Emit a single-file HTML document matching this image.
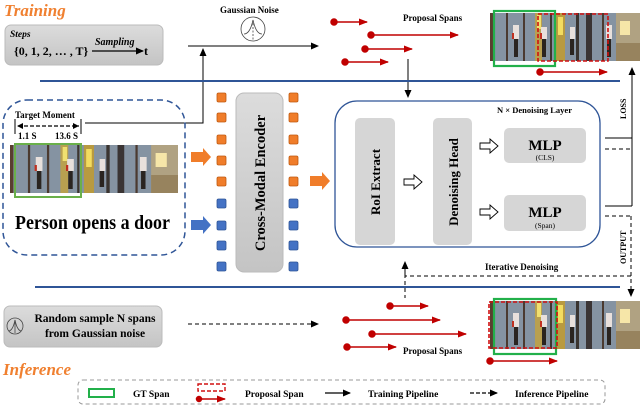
<!DOCTYPE html>
<html><head><meta charset="utf-8"><style>
html,body{margin:0;padding:0;background:#fff;}
svg{display:block;font-family:"Liberation Serif",serif;}
</style></head><body>
<svg width="640" height="406" viewBox="0 0 640 406" xmlns="http://www.w3.org/2000/svg">
<defs>
<marker id="ah" markerWidth="8" markerHeight="8" refX="7" refY="4" orient="auto" markerUnits="userSpaceOnUse"><path d="M0,0.5 L8,4 L0,7.5 Z" fill="#000"/></marker>
<marker id="rh" markerWidth="9" markerHeight="8" refX="8" refY="4" orient="auto" markerUnits="userSpaceOnUse"><path d="M0,0.5 L9,4 L0,7.5 Z" fill="#c00000"/></marker>
<linearGradient id="bx" x1="0" y1="0" x2="0" y2="1"><stop offset="0" stop-color="#dcdcdc"/><stop offset="1" stop-color="#c4c4c4"/></linearGradient>
<g id="vid">
<rect x="0" y="0" width="150" height="48" fill="#8593a2"/>
<rect x="0" y="0" width="3" height="48" fill="#5a3e30"/>
<rect x="16" y="0" width="2" height="48" fill="#4b3a30"/>
<rect x="33" y="0" width="2" height="48" fill="#4b3a30"/>
<rect x="45" y="0" width="7" height="48" fill="#b8a050"/>
<rect x="47" y="2" width="4" height="14" fill="#f0e070"/>
<rect x="60" y="0" width="2" height="48" fill="#3d3530"/>
<rect x="66" y="0" width="9" height="48" fill="#b89a40"/>
<rect x="68" y="4" width="5" height="18" fill="#f2dc60"/>
<rect x="86" y="0" width="3" height="48" fill="#3a3430"/>
<rect x="96" y="0" width="6" height="48" fill="#3a3434"/>
<rect x="112" y="0" width="2" height="48" fill="#4b3a30"/>
<rect x="126" y="0" width="24" height="48" fill="#b0a282"/>
<rect x="130" y="8" width="10" height="14" fill="#f6e6a8"/>
<rect x="126" y="30" width="24" height="18" fill="#97835e"/>
<g fill="#e8e0dc"><rect x="23" y="12" width="6" height="14"/><rect x="51" y="14" width="6" height="12"/><rect x="80" y="14" width="5" height="12"/><rect x="116" y="12" width="6" height="14"/></g>
<g fill="#2a2420"><rect x="24" y="26" width="4" height="18"/><rect x="52" y="26" width="4" height="18"/><rect x="80" y="26" width="4" height="16"/><rect x="117" y="26" width="4" height="18"/></g>
<g fill="#c03020"><rect x="22" y="20" width="2" height="6"/><rect x="50" y="20" width="2" height="6"/></g>
</g>
</defs>

<text x="4" y="16" font-size="17" font-style="italic" font-weight="bold" fill="#f08030">Training</text>
<rect x="5" y="25" width="158" height="40" rx="6" fill="url(#bx)" stroke="#bbb"/>
<text x="10" y="37" font-size="9.5" font-style="italic" font-weight="bold">Steps</text>
<text x="14" y="55" font-size="12" font-weight="bold">{0, 1, 2, … , T}</text>
<line x1="92" y1="51" x2="143" y2="51" stroke="#000" stroke-width="1.2" marker-end="url(#ah)"/>
<text x="95" y="45" font-size="10" font-style="italic" font-weight="bold">Sampling</text>
<text x="144" y="55" font-size="12" font-weight="bold">t</text>

<text x="220" y="13" font-size="9" font-weight="bold">Gaussian Noise</text>
<circle cx="253" cy="29" r="12" fill="none" stroke="#444" stroke-width="0.8"/>
<path d="M244,34 Q250,34 253,20 Q256,34 262,34" fill="none" stroke="#444" stroke-width="0.8"/>
<line x1="253" y1="20" x2="253" y2="40" stroke="#444" stroke-width="0.8" stroke-dasharray="2,1.5"/>
<line x1="188" y1="46" x2="318" y2="46" stroke="#000" stroke-width="1" marker-end="url(#ah)"/>
<polyline points="85,123 203,123 203,49" fill="none" stroke="#000" stroke-width="1" marker-end="url(#ah)"/>

<g stroke="#c00000" stroke-width="1.5" fill="#c00000">
<line x1="334" y1="22" x2="367" y2="22" marker-end="url(#rh)"/><circle cx="334" cy="22" r="3"/>
<line x1="371" y1="35" x2="458" y2="35" marker-end="url(#rh)"/><circle cx="371" cy="35" r="3"/>
<line x1="365" y1="49" x2="412" y2="49" marker-end="url(#rh)"/><circle cx="365" cy="49" r="3"/>
<line x1="345" y1="62" x2="388" y2="62" marker-end="url(#rh)"/><circle cx="345" cy="62" r="3"/>
<line x1="540" y1="72" x2="607" y2="72" marker-end="url(#rh)"/><circle cx="540" cy="72" r="3"/>
</g>
<text x="403" y="21" font-size="9" font-weight="bold">Proposal Spans</text>
<line x1="408" y1="59" x2="408" y2="97" stroke="#000" stroke-width="1" marker-end="url(#ah)"/>
<use href="#vid" x="490" y="13"/>
<rect x="494" y="11" width="61" height="55" fill="none" stroke="#22b04a" stroke-width="2.2"/>
<rect x="538" y="14" width="70" height="47" fill="none" stroke="#d01010" stroke-width="1.6" stroke-dasharray="4,2"/>

<line x1="40" y1="81" x2="620" y2="81" stroke="#2f5597" stroke-width="2"/>
<line x1="35" y1="287" x2="620" y2="287" stroke="#2f5597" stroke-width="2"/>

<line x1="632" y1="206" x2="632" y2="68" stroke="#000" stroke-width="1" marker-end="url(#ah)"/>
<line x1="605" y1="138" x2="632" y2="138" stroke="#000"/>
<line x1="605" y1="206" x2="632" y2="206" stroke="#000"/>
<line x1="605" y1="149" x2="632" y2="149" stroke="#000" stroke-dasharray="4,3"/>
<line x1="605" y1="216" x2="631" y2="216" stroke="#000" stroke-dasharray="4,3"/>
<line x1="631" y1="216" x2="631" y2="296" stroke="#000" stroke-dasharray="4,3" marker-end="url(#ah)"/>
<text transform="translate(626,119) rotate(-90)" font-size="8" font-weight="bold">LOSS</text>
<text transform="translate(626,264) rotate(-90)" font-size="8" font-weight="bold">OUTPUT</text>

<rect x="3" y="100" width="182" height="155" rx="24" fill="none" stroke="#2f5597" stroke-width="1.5" stroke-dasharray="6,4"/>
<text x="15" y="118" font-size="9" font-weight="bold">Target Moment</text>
<line x1="15" y1="119" x2="15" y2="134" stroke="#000"/><line x1="81" y1="119" x2="81" y2="134" stroke="#000"/>
<line x1="18" y1="126" x2="79" y2="126" stroke="#000" stroke-width="1.2" stroke-dasharray="4,2"/>
<path d="M17,126 L23,123 L23,129 Z M79,126 L73,123 L73,129 Z" fill="#000"/>
<text x="18" y="139" font-size="9" font-weight="bold">1.1 S</text>
<text x="55" y="139" font-size="9" font-weight="bold">13.6 S</text>
<use href="#vid" transform="translate(10,145) scale(1.12,1)"/>
<rect x="15" y="144" width="66" height="53" fill="none" stroke="#6ab04a" stroke-width="2"/>
<text x="15" y="229" font-size="20" font-weight="bold" textLength="155" lengthAdjust="spacingAndGlyphs">Person opens a door</text>

<path d="M191,152 L203,152 L203,148 L211,157 L203,166 L203,162 L191,162 Z" fill="#f07d2a"/>
<path d="M191,220 L203,220 L203,216 L211,225 L203,234 L203,230 L191,230 Z" fill="#4472c4"/>
<path d="M310,176 L322,176 L322,172 L330,181 L322,190 L322,186 L310,186 Z" fill="#f07d2a"/>

<g stroke-width="0.8">
<g fill="#f07d2a" stroke="#c05a10">
<rect x="217" y="93" width="9" height="9" rx="1.5"/><rect x="217" y="113" width="9" height="9" rx="1.5"/><rect x="217" y="135" width="9" height="9" rx="1.5"/><rect x="217" y="156" width="9" height="9" rx="1.5"/><rect x="217" y="177" width="9" height="9" rx="1.5"/>
<rect x="289" y="93" width="9" height="9" rx="1.5"/><rect x="289" y="113" width="9" height="9" rx="1.5"/><rect x="289" y="135" width="9" height="9" rx="1.5"/><rect x="289" y="156" width="9" height="9" rx="1.5"/><rect x="289" y="177" width="9" height="9" rx="1.5"/>
</g>
<g fill="#4472c4" stroke="#2f5597">
<rect x="217" y="199" width="9" height="9" rx="1.5"/><rect x="217" y="221" width="9" height="9" rx="1.5"/><rect x="217" y="241" width="9" height="9" rx="1.5"/><rect x="217" y="262" width="9" height="9" rx="1.5"/>
<rect x="289" y="199" width="9" height="9" rx="1.5"/><rect x="289" y="221" width="9" height="9" rx="1.5"/><rect x="289" y="241" width="9" height="9" rx="1.5"/><rect x="289" y="262" width="9" height="9" rx="1.5"/>
</g></g>
<rect x="236" y="93" width="47" height="179" rx="8" fill="url(#bx)" stroke="#bbb"/>
<text transform="translate(265,183) rotate(-90)" font-size="14.5" font-weight="bold" text-anchor="middle">Cross-Modal  Encoder</text>

<rect x="335" y="101" width="265" height="146" rx="22" fill="none" stroke="#2f5597" stroke-width="1.3"/>
<text x="497" y="113" font-size="8.5" font-weight="bold">N × Denoising Layer</text>
<rect x="355" y="118" width="40" height="127" rx="5" fill="#d6d6d6"/>
<text transform="translate(380,182) rotate(-90)" font-size="13" font-weight="bold" text-anchor="middle">RoI  Extract</text>
<rect x="433" y="118" width="39" height="127" rx="5" fill="#d6d6d6"/>
<text transform="translate(458,182) rotate(-90)" font-size="13" font-weight="bold" text-anchor="middle">Denoising Head</text>
<g fill="#fff" stroke="#000" stroke-width="0.9">
<path d="M404,179 L414,179 L414,175 L422,182 L414,189 L414,185 L404,185 Z"/>
<path d="M480,143 L490,143 L490,139 L498,146 L490,153 L490,149 L480,149 Z"/>
<path d="M480,209 L490,209 L490,205 L498,212 L490,219 L490,215 L480,215 Z"/>
</g>
<rect x="504" y="128" width="82" height="35" rx="5" fill="#d6d6d6"/>
<text x="545" y="150" font-size="15" font-weight="bold" text-anchor="middle">MLP</text>
<text x="545" y="160" font-size="7.5" text-anchor="middle">(CLS)</text>
<rect x="504" y="195" width="82" height="36" rx="5" fill="#d6d6d6"/>
<text x="545" y="217" font-size="15" font-weight="bold" text-anchor="middle">MLP</text>
<text x="545" y="228" font-size="7.5" text-anchor="middle">(Span)</text>

<polyline points="631,276 405,276 405,298" fill="none" stroke="#000" stroke-dasharray="4,3"/>
<line x1="405" y1="276" x2="405" y2="262" stroke="#000" marker-end="url(#ah)"/>
<text x="485" y="270" font-size="9" font-weight="bold">Iterative Denoising</text>

<rect x="4" y="306" width="158" height="41" rx="6" fill="url(#bx)" stroke="#bbb"/>
<circle cx="15" cy="326" r="8" fill="none" stroke="#444" stroke-width="0.8"/>
<path d="M9,331 Q13,330 15,320 Q17,330 21,331" fill="none" stroke="#444" stroke-width="0.8"/>
<line x1="15" y1="320" x2="15" y2="333" stroke="#444" stroke-width="0.8"/>
<text x="95" y="322" font-size="11.5" font-weight="bold" text-anchor="middle">Random sample N spans</text>
<text x="95" y="337" font-size="11.5" font-weight="bold" text-anchor="middle">from Gaussian noise</text>
<line x1="188" y1="324" x2="318" y2="324" stroke="#000" stroke-dasharray="4,3" marker-end="url(#ah)"/>
<g stroke="#c00000" stroke-width="1.5" fill="#c00000">
<line x1="390" y1="306" x2="428" y2="306" marker-end="url(#rh)"/><circle cx="390" cy="306" r="3"/>
<line x1="346" y1="320" x2="440" y2="320" marker-end="url(#rh)"/><circle cx="346" cy="320" r="3"/>
<line x1="372" y1="334" x2="466" y2="334" marker-end="url(#rh)"/><circle cx="372" cy="334" r="3"/>
<line x1="347" y1="347" x2="396" y2="347" marker-end="url(#rh)"/><circle cx="347" cy="347" r="3"/>
<line x1="490" y1="361" x2="557" y2="361" marker-end="url(#rh)"/><circle cx="490" cy="361" r="3"/>
</g>
<text x="403" y="354" font-size="9" font-weight="bold">Proposal Spans</text>
<use href="#vid" x="490" y="301"/>
<rect x="494" y="299" width="62" height="55" fill="none" stroke="#22b04a" stroke-width="2.2"/>
<rect x="489" y="302" width="68" height="46" fill="none" stroke="#d01010" stroke-width="1.6" stroke-dasharray="4,2"/>
<text x="3" y="375" font-size="17" font-style="italic" font-weight="bold" fill="#f08030">Inference</text>

<rect x="78" y="380" width="527" height="24" rx="5" fill="none" stroke="#999" stroke-dasharray="4,3"/>
<rect x="89" y="389" width="25" height="8" fill="none" stroke="#22b04a" stroke-width="2"/>
<text x="133" y="397" font-size="9.5" font-weight="bold">GT Span</text>
<rect x="198" y="384" width="27" height="7" fill="none" stroke="#d01010" stroke-width="1.4" stroke-dasharray="4,2"/>
<g stroke="#c00000" stroke-width="1.5" fill="#c00000"><line x1="199" y1="399" x2="225" y2="399" marker-end="url(#rh)"/><circle cx="199" cy="399" r="2.5"/></g>
<text x="245" y="397" font-size="9.5" font-weight="bold">Proposal Span</text>
<line x1="325" y1="393" x2="350" y2="393" stroke="#000" stroke-width="1.2" marker-end="url(#ah)"/>
<text x="368" y="397" font-size="9.5" font-weight="bold">Training Pipeline</text>
<line x1="470" y1="393" x2="497" y2="393" stroke="#000" stroke-width="1.2" stroke-dasharray="4,2" marker-end="url(#ah)"/>
<text x="515" y="397" font-size="9.5" font-weight="bold">Inference Pipeline</text>
</svg>
</body></html>
